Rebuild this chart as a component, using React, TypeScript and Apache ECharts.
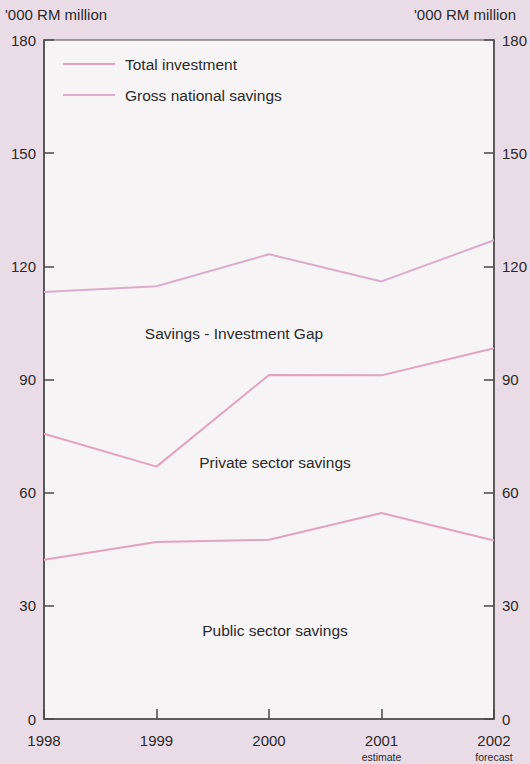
import React, { useEffect, useRef } from "react";
import * as echarts from "echarts";

const years = [1998, 1999, 2000, 2001, 2002];
const yearNotes = ["", "", "", "estimate", "forecast"];
const grossNationalSavings = [113.2, 114.7, 123.2, 116.0, 126.9];
const totalInvestment = [75.6, 66.9, 91.2, 91.1, 98.3];
const publicSectorSavings = [42.2, 46.9, 47.5, 54.6, 47.3];
const yTicks = { min: 0, max: 180, interval: 30 };

const FONT = "'Liberation Sans', Arial, sans-serif";
const LINE = "#e3a3bf";
const TEXT = "#2a2a2a";
const AXIS = "#4a4a4a";

export default function App() {
  const ref = useRef<HTMLDivElement>(null);
  useEffect(() => {
    if (!ref.current) return;
    const chart = echarts.init(ref.current, null, { renderer: "svg" });
    const pair = (arr: number[]) => years.map((y, i) => [y, arr[i]]);
    const yAxisCommon = {
      type: "value",
      min: yTicks.min,
      max: yTicks.max,
      interval: yTicks.interval,
      axisLine: { show: true, lineStyle: { color: AXIS, width: 1.5 } },
      axisTick: { show: true, inside: true, length: 10, lineStyle: { color: AXIS, width: 1.5 } },
      splitLine: { show: false },
      axisLabel: { color: TEXT, fontSize: 15, fontFamily: FONT, margin: 8, padding: [5, 0, 0, 0] },
    };
    chart.setOption({
      animation: false,
      backgroundColor: "#eadce7",
      textStyle: { fontFamily: FONT },
      grid: {
        left: 44,
        right: 36,
        top: 40,
        bottom: 45,
        show: true,
        backgroundColor: "#f7f4f6",
        borderColor: AXIS,
        borderWidth: 1.2,
      },
      legend: {
        data: ["Total investment", "Gross national savings"],
        orient: "vertical",
        left: 58,
        top: 51,
        icon: "rect",
        itemWidth: 52,
        itemHeight: 2,
        itemGap: 15,
        textStyle: { color: TEXT, fontSize: 15.5, fontFamily: FONT, padding: [0, 0, 0, 5] },
      },
      xAxis: {
        type: "value",
        min: 1998,
        max: 2002,
        interval: 1,
        axisLine: { show: true, lineStyle: { color: AXIS, width: 1.5 } },
        axisTick: { show: true, inside: true, length: 10, lineStyle: { color: AXIS, width: 1.5 } },
        splitLine: { show: false },
        axisLabel: {
          margin: 13,
          verticalAlign: "top",
          formatter: (v: number) => {
            const i = years.indexOf(v);
            const note = i >= 0 ? yearNotes[i] : "";
            return note ? `{y|${v}}\n{s|${note}}` : `{y|${v}}`;
          },
          rich: {
            y: { fontSize: 15, color: TEXT, fontFamily: FONT, lineHeight: 17 },
            s: { fontSize: 10.5, color: TEXT, fontFamily: FONT, lineHeight: 15 },
          },
        },
      },
      yAxis: [
        { ...yAxisCommon, position: "left" },
        { ...yAxisCommon, position: "right" },
      ],
      graphic: [
        { type: "text", left: 5, top: 7, style: { text: "'000 RM million", fill: TEXT, fontSize: 15, fontFamily: FONT } },
        { type: "text", right: 14, top: 7, style: { text: "'000 RM million", fill: TEXT, fontSize: 15, fontFamily: FONT } },
        { type: "text", x: 234, y: 333, style: { text: "Savings - Investment Gap", fill: TEXT, fontSize: 15.5, fontFamily: FONT, align: "center", verticalAlign: "middle" } },
        { type: "text", x: 275, y: 462, style: { text: "Private sector savings", fill: TEXT, fontSize: 15.5, fontFamily: FONT, align: "center", verticalAlign: "middle" } },
        { type: "text", x: 275, y: 630, style: { text: "Public sector savings", fill: TEXT, fontSize: 15.5, fontFamily: FONT, align: "center", verticalAlign: "middle" } },
      ],
      series: [
        { name: "Gross national savings", type: "line", data: pair(grossNationalSavings), symbol: "none", lineStyle: { color: "#dcaccb", width: 2 }, itemStyle: { color: "#dcaccb" } },
        { name: "Total investment", type: "line", data: pair(totalInvestment), symbol: "none", lineStyle: { color: LINE, width: 2 }, itemStyle: { color: LINE } },
        { name: "Public sector savings", type: "line", data: pair(publicSectorSavings), symbol: "none", lineStyle: { color: LINE, width: 2 }, itemStyle: { color: LINE } },
      ],
    });
    return () => chart.dispose();
  }, []);
  return <div ref={ref} style={{ position: "fixed", left: 0, top: 0, width: 530, height: 764 }} />;
}
